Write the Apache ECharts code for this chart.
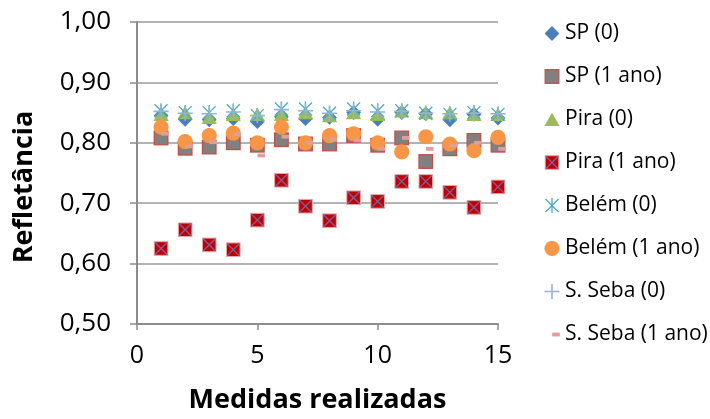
<!DOCTYPE html>
<html>
<head>
<meta charset="utf-8">
<script src="https://cdn.jsdelivr.net/npm/echarts@6/dist/echarts.min.js"></script>
<style>
  html, body { margin: 0; padding: 0; background: #fff; }
  #chart { width: 710px; height: 419px; }
</style>
</head>
<body>
<div id="chart"></div>
<script>
// Measurement index (x axis)
const medidas = [1, 2, 3, 4, 5, 6, 7, 8, 9, 10, 11, 12, 13, 14, 15];

// Reflectance per sample site, fresh (0) and after one year
const spZero    = [0.845, 0.839, 0.838, 0.840, 0.835, 0.843, 0.840, 0.842, 0.850, 0.839, 0.850, 0.848, 0.838, 0.847, 0.841];
const spUm      = [0.808, 0.791, 0.793, 0.800, 0.796, 0.805, 0.798, 0.798, 0.812, 0.796, 0.808, 0.769, 0.790, 0.804, 0.796];
const piraZero  = [0.847, 0.850, 0.842, 0.847, 0.847, 0.847, 0.850, 0.845, 0.850, 0.847, 0.853, 0.850, 0.850, 0.847, 0.847];
const piraUm    = [0.625, 0.656, 0.631, 0.623, 0.672, 0.738, 0.695, 0.671, 0.709, 0.703, 0.736, 0.736, 0.718, 0.693, 0.727];
const belemZero = [0.853, 0.850, 0.850, 0.853, 0.845, 0.856, 0.856, 0.849, 0.856, 0.853, 0.853, 0.849, 0.847, 0.850, 0.847];
const belemUm   = [0.826, 0.802, 0.812, 0.816, 0.800, 0.826, 0.800, 0.812, 0.815, 0.800, 0.785, 0.810, 0.798, 0.787, 0.809];
const sebaZero  = [0.852, 0.849, 0.848, 0.851, 0.845, 0.855, 0.853, 0.849, 0.853, 0.851, 0.852, 0.849, 0.848, 0.849, 0.848];
const sebaUm    = [0.815, 0.794, 0.801, 0.814, 0.779, 0.810, 0.800, 0.805, 0.804, 0.790, 0.808, 0.790, 0.796, 0.800, 0.790];

const seriesNames = ['SP (0)', 'SP (1 ano)', 'Pira (0)', 'Pira (1 ano)', 'Belém (0)', 'Belém (1 ano)', 'S. Seba (0)', 'S. Seba (1 ano)'];
const seriesValues = [spZero, spUm, piraZero, piraUm, belemZero, belemUm, sebaZero, sebaUm];

// Marker glyphs as small inline SVGs (16x16 box)
function svgSymbol(body) {
  const svg = '<svg xmlns="http://www.w3.org/2000/svg" width="48" height="48" viewBox="0 0 16 16">' + body + '</svg>';
  return 'image://data:image/svg+xml;charset=utf-8,' + encodeURIComponent(svg);
}
const markers = [
  svgSymbol('<polygon points="8,0.6 15.4,8 8,15.4 0.6,8" fill="#4A7EBB"/>'),
  svgSymbol('<rect x="1.2" y="1.2" width="13.6" height="13.6" fill="#808080" stroke="#C0504D" stroke-width="1.3"/>'),
  svgSymbol('<polygon points="8,1.2 15.6,14.6 0.4,14.6" fill="#9BBB59"/>'),
  svgSymbol('<rect x="1.2" y="1.2" width="13.6" height="13.6" fill="#C00000" stroke="#E8A9A8" stroke-width="1"/>' +
            '<path d="M1.8 1.8L14.2 14.2M14.2 1.8L1.8 14.2" stroke="#7D60A0" stroke-width="1.3"/>'),
  svgSymbol('<path d="M1.5 1.5L14.5 14.5M14.5 1.5L1.5 14.5M8 0.5V15.5" stroke="#4BACC6" stroke-width="1.3" fill="none"/>'),
  svgSymbol('<circle cx="8" cy="8" r="7.6" fill="#F79646"/>'),
  svgSymbol('<path d="M8 0.4V15.6M0.4 8H15.6" stroke="#95B3D7" stroke-width="1.6" fill="none"/>'),
  svgSymbol('<rect x="8.2" y="6.1" width="7.6" height="3.8" fill="#DE9E9D"/>')
];

const FONT = '"Open Sans", "Noto Sans", sans-serif';
const fmt = v => v.toFixed(2).replace('.', ',');

const chart = echarts.init(document.getElementById('chart'), null, { renderer: 'canvas' });

chart.setOption({
  animation: false,
  backgroundColor: '#ffffff',
  grid: { left: 137, right: 212, top: 22, bottom: 91 },
  legend: {
    orient: 'vertical',
    left: 539,
    top: 18,
    itemWidth: 16,
    itemHeight: 16,
    itemGap: 22,
    data: seriesNames,
    textStyle: { fontFamily: FONT, fontSize: 21, color: '#000', lineHeight: 21 }
  },
  xAxis: {
    type: 'value',
    min: 0,
    max: 15,
    interval: 5,
    name: 'Medidas realizadas',
    nameLocation: 'middle',
    nameGap: 63,
    nameTextStyle: { fontFamily: FONT, fontSize: 27, fontWeight: 'bold', color: '#000' },
    axisLine: { show: true, onZero: false, lineStyle: { color: '#8c8c8c', width: 2 } },
    axisTick: { show: true, inside: false, length: 6, lineStyle: { color: '#8c8c8c', width: 1.5 } },
    axisLabel: { fontFamily: FONT, fontSize: 25, color: '#000', margin: 19 },
    splitLine: { show: false }
  },
  yAxis: {
    type: 'value',
    min: 0.5,
    max: 1.0,
    interval: 0.1,
    name: 'Refletância',
    nameLocation: 'middle',
    nameGap: 99,
    nameTextStyle: { fontFamily: FONT, fontSize: 27, fontWeight: 'bold', color: '#000', padding: [0, 28, 0, 0] },
    axisLine: { show: true, onZero: false, lineStyle: { color: '#8c8c8c', width: 2 } },
    axisTick: { show: true, inside: false, length: 7, lineStyle: { color: '#8c8c8c', width: 1.5 } },
    axisLabel: { fontFamily: FONT, fontSize: 26, color: '#000', margin: 26, formatter: fmt },
    splitLine: { show: true, lineStyle: { color: '#9a9a9a', width: 1.5 } }
  },
  series: seriesNames.map((name, i) => ({
    name: name,
    type: 'scatter',
    symbol: markers[i],
    symbolSize: 16,
    itemStyle: { opacity: 1 },
    emphasis: { disabled: true },
    data: medidas.map((m, k) => [m, seriesValues[i][k]])
  }))
});
</script>
</body>
</html>
